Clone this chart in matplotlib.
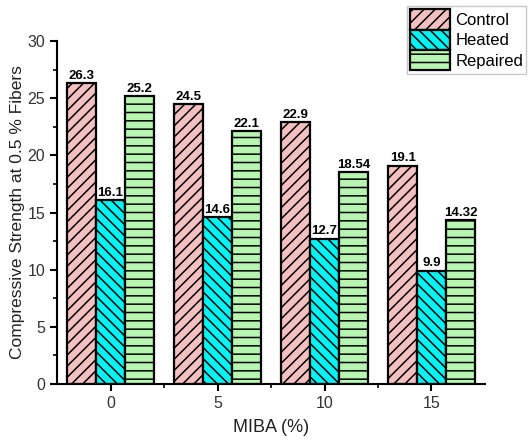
import matplotlib
matplotlib.use("Agg")
import matplotlib.pyplot as plt
import numpy as np

plt.rcParams['font.family'] = ['Liberation Sans', 'DejaVu Sans']
plt.rcParams['hatch.linewidth'] = 1.1

categories = ['0', '5', '10', '15']
series_names = ['Control', 'Heated', 'Repaired']
control = [26.3, 24.5, 22.9, 19.1]
heated = [16.1, 14.6, 12.7, 9.9]
repaired = [25.2, 22.1, 18.54, 14.32]
labels_control = ['26.3', '24.5', '22.9', '19.1']
labels_heated = ['16.1', '14.6', '12.7', '9.9']
labels_repaired = ['25.2', '22.1', '18.54', '14.32']

colors = ['#F5C0C0', '#00F5F5', '#B8F5B0']
hatches = ['///', '\\\\\\', '--']

fig = plt.figure(figsize=(5.28, 4.44), dpi=100)
ax = fig.add_axes([57/528, 60/444, (485-57)/528, (384-41)/444])

x = np.arange(len(categories))
w = 0.27
data = [control, heated, repaired]
labs = [labels_control, labels_heated, labels_repaired]
for i, (vals, lab) in enumerate(zip(data, labs)):
    bars = ax.bar(x + (i - 1) * w, vals, w, color=colors[i], edgecolor='black',
                  linewidth=1.6, hatch=hatches[i], label=series_names[i])
    for b, t in zip(bars, lab):
        ax.text(b.get_x() + b.get_width() / 2, b.get_height() + 0.12, t,
                ha='center', va='bottom', fontsize=9.5, fontweight='bold')

ax.set_xlim(-0.5, 3.5)
ax.set_ylim(0, 30)
ax.set_xticks(x)
ax.set_xticklabels(categories)
ax.set_xticks(x[:-1] + 0.5, minor=True)
ax.set_yticks(np.arange(0, 31, 5))
ax.set_yticks(np.arange(2.5, 30, 5), minor=True)
ax.spines['top'].set_visible(False)
ax.spines['right'].set_visible(False)
ax.spines['left'].set_linewidth(1.5)
ax.spines['bottom'].set_linewidth(1.5)
ax.tick_params(axis='both', which='major', labelsize=11.5, width=1.5, length=5)
ax.tick_params(axis='both', which='minor', width=1.2, length=3)
ax.tick_params(axis='both', labelcolor='#333333')
ax.set_xlabel('MIBA (%)', fontsize=13, color='#222222', labelpad=6)
ax.set_ylabel('Compressive Strength at 0.5 % Fibers', fontsize=12.5, color='#222222', labelpad=2)

leg = fig.legend(loc='upper right', bbox_to_anchor=(1.0, 0.99), fontsize=12,
                 frameon=True, fancybox=False, edgecolor='#BBBBBB',
                 handlelength=2.4, handleheight=1.5, borderpad=0.2,
                 labelspacing=0.0, handletextpad=0.3, borderaxespad=0.1)

fig.savefig('out.png', dpi=100)
